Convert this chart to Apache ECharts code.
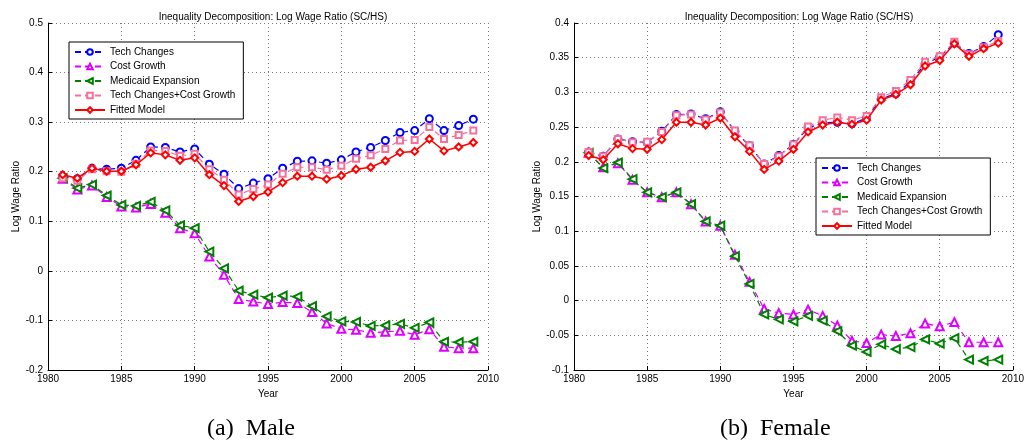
<!DOCTYPE html>
<html>
<head>
<meta charset="utf-8">
<script src="https://cdn.jsdelivr.net/npm/echarts@6/dist/echarts.min.js"></script>
<style>
html,body{margin:0;padding:0;background:#fff;}
#chart{width:1027px;height:446px;}
</style>
</head>
<body>
<div id="chart"></div>
<script>
const years = [1981,1982,1983,1984,1985,1986,1987,1988,1989,1990,1991,1992,1993,1994,1995,1996,1997,1998,1999,2000,2001,2002,2003,2004,2005,2006,2007,2008,2009];

const seriesNames = ['Tech Changes','Cost Growth','Medicaid Expansion','Tech Changes+Cost Growth','Fitted Model'];
const chartTitle = 'Inequality Decomposition: Log Wage Ratio (SC/HS)';
const captions = ['(a)  Male', '(b)  Female'];

const maleTech = [0.190,0.186,0.207,0.205,0.207,0.223,0.250,0.249,0.240,0.246,0.215,0.195,0.166,0.177,0.186,0.207,0.221,0.222,0.217,0.224,0.240,0.249,0.263,0.279,0.283,0.307,0.283,0.293,0.306];
const maleCost = [0.186,0.164,0.172,0.149,0.130,0.128,0.135,0.117,0.086,0.076,0.029,-0.008,-0.057,-0.062,-0.067,-0.063,-0.065,-0.083,-0.106,-0.117,-0.119,-0.125,-0.123,-0.121,-0.129,-0.118,-0.153,-0.156,-0.156];
const maleMedicaid = [0.187,0.167,0.174,0.152,0.133,0.131,0.139,0.122,0.092,0.086,0.039,0.005,-0.040,-0.048,-0.054,-0.050,-0.052,-0.071,-0.092,-0.102,-0.103,-0.111,-0.110,-0.107,-0.115,-0.104,-0.143,-0.144,-0.143];
const maleTechCost = [0.187,0.182,0.205,0.201,0.200,0.216,0.243,0.242,0.232,0.236,0.205,0.184,0.154,0.165,0.174,0.196,0.209,0.209,0.204,0.212,0.226,0.233,0.246,0.263,0.264,0.290,0.266,0.274,0.283];
const maleFitted = [0.194,0.187,0.207,0.201,0.201,0.214,0.238,0.234,0.223,0.228,0.194,0.172,0.140,0.150,0.159,0.178,0.191,0.191,0.185,0.192,0.205,0.209,0.222,0.239,0.241,0.266,0.242,0.250,0.259];

const femaleTech = [0.214,0.208,0.233,0.229,0.228,0.244,0.268,0.269,0.262,0.272,0.244,0.223,0.197,0.209,0.225,0.249,0.256,0.257,0.255,0.263,0.291,0.298,0.315,0.341,0.351,0.371,0.356,0.366,0.383];
const femaleCost = [0.213,0.192,0.198,0.174,0.156,0.149,0.156,0.139,0.114,0.108,0.066,0.027,-0.012,-0.018,-0.020,-0.013,-0.022,-0.036,-0.058,-0.061,-0.049,-0.051,-0.047,-0.033,-0.037,-0.031,-0.060,-0.060,-0.060];
const femaleMedicaid = [0.213,0.191,0.199,0.175,0.156,0.149,0.156,0.139,0.114,0.108,0.064,0.024,-0.020,-0.027,-0.030,-0.022,-0.029,-0.044,-0.065,-0.074,-0.063,-0.070,-0.067,-0.056,-0.062,-0.054,-0.085,-0.087,-0.085];
const femaleTechCost = [0.214,0.208,0.233,0.228,0.229,0.243,0.267,0.268,0.261,0.271,0.245,0.224,0.197,0.208,0.225,0.251,0.260,0.264,0.260,0.266,0.293,0.302,0.318,0.344,0.352,0.373,0.355,0.365,0.374];
const femaleFitted = [0.209,0.203,0.226,0.219,0.218,0.232,0.257,0.257,0.253,0.263,0.236,0.215,0.189,0.201,0.218,0.243,0.253,0.257,0.254,0.260,0.289,0.297,0.311,0.338,0.346,0.370,0.352,0.363,0.371];

const FONT = 'Liberation Sans, Arial, Helvetica, sans-serif';
const styles = [
  {color:'#0000ff', symbol:'emptyCircle', size:7, rotate:0, dash:[6,4], width:1.2},
  {color:'#dd00ff', symbol:'emptyTriangle', size:8, rotate:0, dash:[6,4], width:1.2},
  {color:'#008000', symbol:'emptyTriangle', size:8, rotate:90, dash:[6,4], width:1.2},
  {color:'#f5709a', symbol:'emptyRect', size:6, rotate:0, dash:[6,4], width:1.2},
  {color:'#ff0000', symbol:'emptyDiamond', size:7, rotate:0, dash:'solid', width:1.5}
];

function pairs(vals){ return years.map((y,i)=>[y, vals[i]]); }

function makeSeries(dataList, gi){
  return dataList.map((vals, k)=>({
    type:'line', name: seriesNames[k], xAxisIndex: gi, yAxisIndex: gi,
    data: pairs(vals),
    symbol: styles[k].symbol, symbolSize: styles[k].size, symbolRotate: styles[k].rotate,
    showAllSymbol: true,
    lineStyle: {color: styles[k].color, width: styles[k].width, type: styles[k].dash},
    itemStyle: {color: styles[k].color, borderWidth: 1.2},
    z: 2 + k
  }));
}

function xAx(gi){
  return {
    type:'value', gridIndex: gi, min:1980, max:2010, interval:5,
    name:'Year', nameLocation:'middle', nameGap:14,
    nameTextStyle:{fontFamily:FONT, fontSize:10, color:'#000'},
    axisLine:{show:true, onZero:false, lineStyle:{color:'#000', width:1}},
    axisTick:{show:true, inside:true, length:4, lineStyle:{color:'#000'}},
    axisLabel:{fontFamily:FONT, fontSize:10, color:'#000', margin:4, formatter:(v)=>String(v)},
    splitLine:{show:true, lineStyle:{color:'#777', width:1, type:[1,3]}}
  };
}
function yAx(gi, min, max, interval, gap){
  return {
    type:'value', gridIndex: gi, min:min, max:max, interval:interval,
    name:'Log Wage Ratio', nameLocation:'middle', nameGap:gap, nameRotate:90,
    nameTextStyle:{fontFamily:FONT, fontSize:10, color:'#000'},
    axisLine:{show:true, onZero:false, lineStyle:{color:'#000', width:1}},
    axisTick:{show:true, inside:true, length:4, lineStyle:{color:'#000'}},
    axisLabel:{fontFamily:FONT, fontSize:10, color:'#000', margin:5},
    splitLine:{show:true, lineStyle:{color:'#777', width:1, type:[1,3]}}
  };
}
function legendAt(left, top){
  return {
    data: seriesNames, orient:'vertical', left:left, top:top,
    itemWidth:30, itemHeight:7, itemGap:4.5,
    padding:[5,8,4,5], borderColor:'#000', borderWidth:1, backgroundColor:'#fff',
    textStyle:{fontFamily:FONT, fontSize:10, color:'#000'},
    selectedMode:false
  };
}

const chart = echarts.init(document.getElementById('chart'));
chart.setOption({
  animation:false,
  backgroundColor:'#fff',
  title:[
    {text:chartTitle, left:268, top:7, textAlign:'center', textStyle:{fontFamily:FONT, fontSize:10, fontWeight:'normal', color:'#000'}},
    {text:chartTitle, left:794, top:7, textAlign:'center', textStyle:{fontFamily:FONT, fontSize:10, fontWeight:'normal', color:'#000'}}
  ],
  legend:[legendAt(69,42), legendAt(816,158)],
  grid:[
    {left:48, right:539, top:23, bottom:76},
    {left:574, right:13, top:23, bottom:76}
  ],
  xAxis:[xAx(0), xAx(1)],
  yAxis:[yAx(0,-0.2,0.5,0.1,27), yAx(1,-0.1,0.4,0.05,31)],
  series: makeSeries([maleTech, maleCost, maleMedicaid, maleTechCost, maleFitted], 0)
    .concat(makeSeries([femaleTech, femaleCost, femaleMedicaid, femaleTechCost, femaleFitted], 1)),
  graphic:[
    {type:'text', left:207, top:417, style:{text:captions[0], font:'24px "Liberation Serif", "Times New Roman", serif', fill:'#000'}},
    {type:'text', left:720, top:417, style:{text:captions[1], font:'24px "Liberation Serif", "Times New Roman", serif', fill:'#000'}}
  ]
});
</script>
</body>
</html>
